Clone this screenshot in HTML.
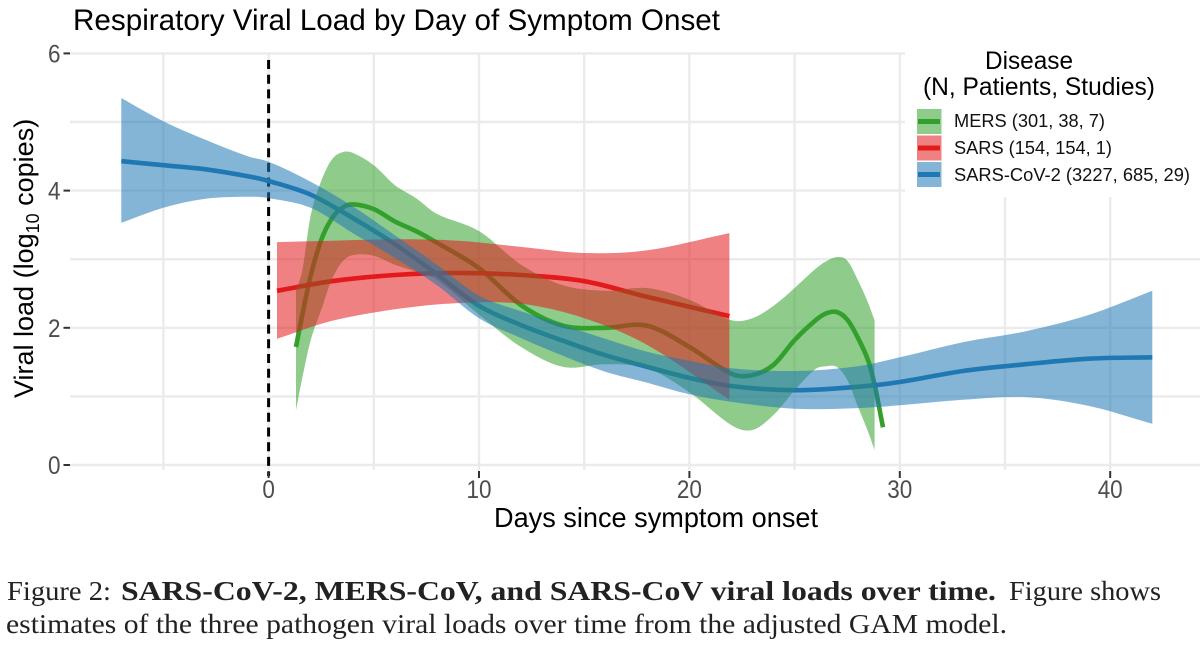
<!DOCTYPE html>
<html lang="en">
<head>
<meta charset="utf-8">
<title>Respiratory Viral Load by Day of Symptom Onset</title>
<style>
html,body{margin:0;padding:0;background:#fff;}
svg{display:block;}
text{font-family:"Liberation Sans",sans-serif;}
.cap{font-family:"Liberation Serif",serif;fill:#222;font-size:27px;}
</style>
</head>
<body>
<svg id="chart" xmlns="http://www.w3.org/2000/svg" width="1200" height="646" viewBox="0 0 1200 646">
  <rect width="1200" height="646" fill="#fff"/>
  <g id="grid"></g>
  <g id="lines"></g>
  <g id="ribbons"></g>
  <g id="axes"></g>

  <text x="73" y="30" font-size="29.5" fill="#000" textLength="647" lengthAdjust="spacingAndGlyphs">Respiratory Viral Load by Day of Symptom Onset</text>
  <text x="494" y="527" font-size="27.5" fill="#000" textLength="324" lengthAdjust="spacingAndGlyphs">Days since symptom onset</text>
  <text transform="translate(33,398) rotate(-90)" font-size="27" fill="#000">Viral load (log<tspan font-size="18" dy="6">10</tspan><tspan dy="-6"> copies)</tspan></text>

  <g>
    <rect x="905" y="36" width="295" height="161" fill="#fff"/>
    <text x="985" y="69" font-size="25" fill="#000" textLength="88" lengthAdjust="spacingAndGlyphs">Disease</text>
    <text x="923" y="95" font-size="25" fill="#000" textLength="232" lengthAdjust="spacingAndGlyphs">(N, Patients, Studies)</text>
    <rect x="917" y="109" width="24.5" height="25" fill="#33a02c" fill-opacity="0.55"/>
    <rect x="918" y="119" width="22" height="5" fill="#33a02c"/>
    <text x="954" y="127" font-size="18" fill="#111" textLength="151" lengthAdjust="spacingAndGlyphs">MERS (301, 38, 7)</text>
    <rect x="917" y="135.5" width="24.5" height="25" fill="#e31a1c" fill-opacity="0.55"/>
    <rect x="918" y="145.5" width="22" height="5" fill="#e31a1c"/>
    <text x="954" y="154" font-size="18" fill="#111" textLength="158" lengthAdjust="spacingAndGlyphs">SARS (154, 154, 1)</text>
    <rect x="917" y="162" width="24.5" height="25" fill="#1f78b4" fill-opacity="0.55"/>
    <rect x="918" y="172" width="22" height="5" fill="#1f78b4"/>
    <text x="954" y="181" font-size="18" fill="#111" textLength="236" lengthAdjust="spacingAndGlyphs">SARS-CoV-2 (3227, 685, 29)</text>
  </g>

  <g>
    <text class="cap" x="7" y="600" textLength="104" lengthAdjust="spacingAndGlyphs">Figure 2:</text>
    <text class="cap" x="121" y="600" font-weight="bold" textLength="875" lengthAdjust="spacingAndGlyphs">SARS-CoV-2, MERS-CoV, and SARS-CoV viral loads over time.</text>
    <text class="cap" x="1009" y="600" textLength="152" lengthAdjust="spacingAndGlyphs">Figure shows</text>
    <text class="cap" x="6" y="633" textLength="1001" lengthAdjust="spacingAndGlyphs">estimates of the three pathogen viral loads over time from the adjusted GAM model.</text>
  </g>
</svg>

<script>
const xTickLabels = [0, 10, 20, 30, 40];
const xGridDays = [-5, 0, 5, 10, 15, 20, 25, 30, 35, 40];
const yTickLabels = [0, 2, 4, 6];
const yGridValues = [0, 1, 2, 3, 4, 5, 6];

const mersDays = [1.3, 1.6, 2, 2.5, 3, 3.5, 4, 5, 6, 7, 8, 10, 12, 14, 16, 18, 20, 22, 23, 24, 25, 26, 26.5, 27, 27.5, 28, 28.5, 28.8, 29.2];
const mersMean = [1.72, 2.19, 2.76, 3.28, 3.59, 3.75, 3.80, 3.73, 3.55, 3.41, 3.24, 2.87, 2.33, 2.03, 2.00, 2.03, 1.72, 1.33, 1.31, 1.46, 1.82, 2.11, 2.21, 2.23, 2.12, 1.86, 1.52, 1.17, 0.55];
const mersUpper = [2.55, 2.84, 3.64, 4.14, 4.45, 4.56, 4.55, 4.37, 4.08, 3.89, 3.66, 3.41, 2.92, 2.62, 2.54, 2.58, 2.41, 2.11, 2.14, 2.32, 2.58, 2.86, 2.97, 3.03, 2.98, 2.70, 2.36, 2.11];
const mersLower = [0.80, 1.27, 1.82, 2.26, 2.70, 2.96, 3.06, 3.05, 2.92, 2.82, 2.70, 2.19, 1.72, 1.43, 1.47, 1.41, 1.06, 0.58, 0.51, 0.73, 1.09, 1.40, 1.44, 1.43, 1.24, 0.86, 0.48, 0.22];

const sarsDays = [0.4, 3, 6, 9, 12, 15, 18, 21.9];
const sarsMean = [2.54, 2.68, 2.77, 2.80, 2.77, 2.68, 2.45, 2.17];
const sarsUpper = [3.25, 3.27, 3.29, 3.27, 3.18, 3.09, 3.13, 3.38];
const sarsLower = [1.84, 2.10, 2.27, 2.36, 2.35, 2.14, 1.75, 0.95];

const covDays = [-7, -5, -3, -1, 0, 2, 4, 6, 8, 10, 12, 14, 16, 18, 20, 22, 25, 28, 30, 33, 36, 39, 42];
const covMean = [4.43, 4.37, 4.31, 4.21, 4.14, 3.94, 3.60, 3.22, 2.78, 2.32, 2.04, 1.81, 1.60, 1.43, 1.27, 1.15, 1.09, 1.14, 1.21, 1.37, 1.47, 1.55, 1.57];
const covUpper = [5.35, 5.01, 4.74, 4.50, 4.42, 4.13, 3.77, 3.35, 2.92, 2.47, 2.24, 2.04, 1.84, 1.65, 1.52, 1.41, 1.37, 1.44, 1.57, 1.79, 1.95, 2.19, 2.54];
const covLower = [3.53, 3.75, 3.88, 3.91, 3.89, 3.75, 3.38, 3.02, 2.62, 2.14, 1.85, 1.59, 1.36, 1.20, 1.03, 0.92, 0.82, 0.83, 0.87, 0.95, 0.99, 0.86, 0.60];

const NS = 'http://www.w3.org/2000/svg';
function xScale(day) { return 268.6 + 21.04 * day; }
function yScale(value) { return 465 - 68.6 * value; }

function mk(tag, parent, attrs) {
  const el = document.createElementNS(NS, tag);
  for (const k in attrs) el.setAttribute(k, attrs[k]);
  parent.appendChild(el);
  return el;
}

function toPoints(days, values) {
  return values.map(function (v, i) { return [xScale(days[i]), yScale(v)]; });
}

function slopeAt(pts, i) {
  const a = pts[Math.max(i - 1, 0)];
  const b = pts[Math.min(i + 1, pts.length - 1)];
  return (b[1] - a[1]) / (b[0] - a[0]);
}

function curve(pts) {
  let d = '';
  for (let i = 0; i < pts.length - 1; i++) {
    const p1 = pts[i];
    const p2 = pts[i + 1];
    const h = (p2[0] - p1[0]) / 3;
    const c1x = p1[0] + h;
    const c1y = p1[1] + slopeAt(pts, i) * h;
    const c2x = p2[0] - h;
    const c2y = p2[1] - slopeAt(pts, i + 1) * h;
    d += ' C' + c1x.toFixed(1) + ' ' + c1y.toFixed(1) + ' ' + c2x.toFixed(1) + ' ' + c2y.toFixed(1) + ' ' + p2[0].toFixed(1) + ' ' + p2[1].toFixed(1);
  }
  return d;
}

function linePath(days, values) {
  const pts = toPoints(days, values);
  return 'M' + pts[0][0].toFixed(1) + ' ' + pts[0][1].toFixed(1) + curve(pts);
}

function ribbonPath(days, upper, lower) {
  const top = toPoints(days, upper);
  const bottom = toPoints(days, lower).reverse();
  return 'M' + top[0][0].toFixed(1) + ' ' + top[0][1].toFixed(1) + curve(top) +
    ' L' + bottom[0][0].toFixed(1) + ' ' + bottom[0][1].toFixed(1) + curve(bottom) + ' Z';
}

const grid = document.getElementById('grid');
const axes = document.getElementById('axes');
const linesG = document.getElementById('lines');
const ribbonsG = document.getElementById('ribbons');

yGridValues.forEach(function (v) {
  const l = mk('line', grid, { x1: 70, x2: 1200, y1: yScale(v), y2: yScale(v), stroke: '#ebebeb', 'stroke-width': 2.4 });
  
  
});
xGridDays.forEach(function (d) {
  const l = mk('line', grid, { x1: xScale(d), x2: xScale(d), y1: yScale(6), y2: yScale(0) + 5, stroke: '#ebebeb', 'stroke-width': 2.4 });
  
  
});

const onset = mk('line', linesG, { x1: xScale(0), x2: xScale(0), y1: 60, y2: 476, stroke: '#000', 'stroke-width': 3, 'stroke-dasharray': '9 5.7' });



const seriesList = [
  { key: 'mers', color: '#33a02c', days: mersDays, mean: mersMean, upper: mersUpper, lower: mersLower },
  { key: 'sars', color: '#e31a1c', days: sarsDays, mean: sarsMean, upper: sarsUpper, lower: sarsLower },
  { key: 'sars-cov-2', color: '#1f78b4', days: covDays, mean: covMean, upper: covUpper, lower: covLower }
];

seriesList.forEach(function (s) {
  const line = mk('path', linesG, { d: linePath(s.days, s.mean), fill: 'none', stroke: s.color, 'stroke-width': 4.6 });
  
  
});
seriesList.forEach(function (s) {
  const n = Math.min(s.upper.length, s.lower.length);
  const rib = mk('path', ribbonsG, { d: ribbonPath(s.days.slice(0, n), s.upper.slice(0, n), s.lower.slice(0, n)), fill: s.color, 'fill-opacity': 0.55 });
  
  
});

yTickLabels.forEach(function (v) {
  const t = mk('line', axes, { x1: 63.5, x2: 70, y1: yScale(v), y2: yScale(v), stroke: '#333', 'stroke-width': 2 });
  
  
  const lab = mk('text', axes, { x: 48, y: yScale(v) + 9, 'font-size': 25, fill: '#4d4d4d', textLength: 12.5, lengthAdjust: 'spacingAndGlyphs' });
  
  
  lab.textContent = v;
});
xTickLabels.forEach(function (d) {
  const t = mk('line', axes, { x1: xScale(d), x2: xScale(d), y1: 471, y2: 478, stroke: '#333', 'stroke-width': 2 });
  
  
  const w = String(d).length * 12.5;
  const lab = mk('text', axes, { x: xScale(d) - w / 2, y: 498, 'font-size': 25, fill: '#4d4d4d', textLength: w, lengthAdjust: 'spacingAndGlyphs' });
  
  
  lab.textContent = d;
});
</script>
</body>
</html>
